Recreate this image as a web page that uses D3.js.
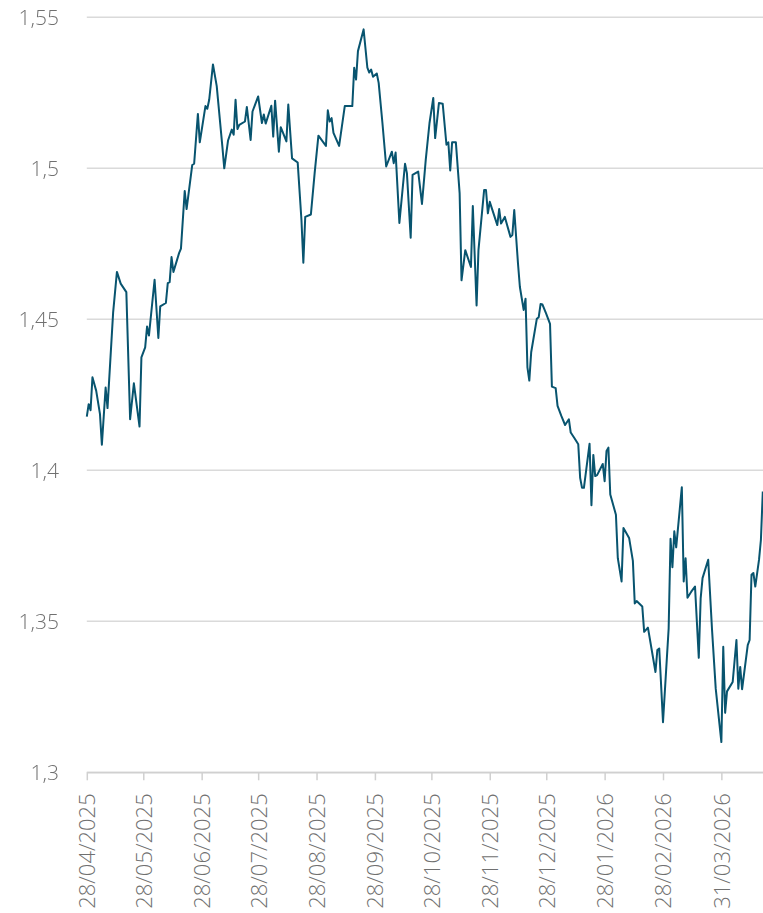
<!DOCTYPE html>
<html><head><meta charset="utf-8">
<script src="https://cdn.jsdelivr.net/npm/d3@7"></script>
<style>
body{margin:0;background:#fff;}
text{font-family:"Open Sans","Noto Sans",sans-serif;font-weight:300;fill:#707070;}
.ylab{opacity:0.999;will-change:transform;}
</style>
</head><body>
<svg id="chart" width="763" height="913"></svg>
<script>
const dates = [
"2025-04-28","2025-04-29","2025-04-30","2025-05-01","2025-05-03","2025-05-05","2025-05-06","2025-05-08","2025-05-09","2025-05-12",
"2025-05-14","2025-05-16","2025-05-19","2025-05-21","2025-05-23","2025-05-26","2025-05-27","2025-05-29","2025-05-30","2025-05-31",
"2025-06-03","2025-06-05","2025-06-06","2025-06-09","2025-06-10","2025-06-11","2025-06-12","2025-06-13","2025-06-16","2025-06-17",
"2025-06-19","2025-06-20","2025-06-23","2025-06-24","2025-06-26","2025-06-27","2025-06-30","2025-07-01","2025-07-02","2025-07-04",
"2025-07-06","2025-07-09","2025-07-10","2025-07-12","2025-07-14","2025-07-15","2025-07-16","2025-07-17","2025-07-18","2025-07-21",
"2025-07-22","2025-07-24","2025-07-25","2025-07-28","2025-07-30","2025-07-31","2025-08-01","2025-08-04","2025-08-05","2025-08-06",
"2025-08-08","2025-08-09","2025-08-12","2025-08-13","2025-08-15","2025-08-18","2025-08-20","2025-08-21","2025-08-22","2025-08-25",
"2025-08-27","2025-08-29","2025-09-02","2025-09-03","2025-09-04","2025-09-05","2025-09-06","2025-09-09","2025-09-12","2025-09-16",
"2025-09-17","2025-09-18","2025-09-19","2025-09-22","2025-09-24","2025-09-25","2025-09-26","2025-09-27","2025-09-29","2025-09-30",
"2025-10-02","2025-10-04","2025-10-07","2025-10-08","2025-10-09","2025-10-11","2025-10-14","2025-10-15","2025-10-17","2025-10-18",
"2025-10-21","2025-10-23","2025-10-25","2025-10-27","2025-10-29","2025-10-30","2025-11-01","2025-11-03","2025-11-05","2025-11-06",
"2025-11-07","2025-11-08","2025-11-10","2025-11-12","2025-11-13","2025-11-15","2025-11-18","2025-11-19","2025-11-21","2025-11-22",
"2025-11-25","2025-11-26","2025-11-27","2025-11-28","2025-12-02","2025-12-03","2025-12-04","2025-12-06","2025-12-09","2025-12-10",
"2025-12-11","2025-12-13","2025-12-14","2025-12-16","2025-12-17","2025-12-18","2025-12-19","2025-12-20","2025-12-23","2025-12-24",
"2025-12-25","2025-12-26","2025-12-28","2025-12-30","2025-12-31","2026-01-02","2026-01-03","2026-01-05","2026-01-07","2026-01-09",
"2026-01-10","2026-01-12","2026-01-14","2026-01-15","2026-01-16","2026-01-17","2026-01-20","2026-01-21","2026-01-22","2026-01-23",
"2026-01-24","2026-01-27","2026-01-28","2026-01-29","2026-01-30","2026-01-31","2026-02-03","2026-02-04","2026-02-06","2026-02-07",
"2026-02-10","2026-02-12","2026-02-13","2026-02-14","2026-02-17","2026-02-18","2026-02-20","2026-02-24","2026-02-25","2026-02-26",
"2026-02-28","2026-03-03","2026-03-04","2026-03-05","2026-03-06","2026-03-07","2026-03-10","2026-03-11","2026-03-12","2026-03-13",
"2026-03-15","2026-03-17","2026-03-19","2026-03-20","2026-03-21","2026-03-24","2026-03-26","2026-03-28","2026-03-31","2026-04-01",
"2026-04-02","2026-04-03","2026-04-06","2026-04-08","2026-04-09","2026-04-10","2026-04-11","2026-04-14","2026-04-15","2026-04-16",
"2026-04-17","2026-04-18","2026-04-20","2026-04-21","2026-04-22"
];
const values = [
1.4178,1.4219,1.4199,1.4308,1.4263,1.4186,1.4085,1.4274,1.4206,1.4524,
1.4657,1.4618,1.4590,1.4169,1.4288,1.4145,1.4374,1.4407,1.4476,1.4446,
1.4631,1.4438,1.4543,1.4554,1.4620,1.4623,1.4706,1.4657,1.4719,1.4734,
1.4925,1.4865,1.5011,1.5015,1.5180,1.5086,1.5206,1.5197,1.5227,1.5344,
1.5272,1.5072,1.5000,1.5092,1.5128,1.5111,1.5227,1.5130,1.5144,1.5155,
1.5203,1.5094,1.5188,1.5238,1.5150,1.5178,1.5148,1.5207,1.5105,1.5224,
1.5055,1.5136,1.5089,1.5211,1.5033,1.5019,1.4828,1.4687,1.4839,1.4847,
1.4984,1.5108,1.5074,1.5192,1.5155,1.5166,1.5117,1.5074,1.5206,1.5206,
1.5333,1.5294,1.5388,1.5460,1.5333,1.5317,1.5327,1.5303,1.5314,1.5283,
1.5150,1.5006,1.5055,1.5017,1.5052,1.4819,1.5015,1.4984,1.4770,1.4978,
1.4989,1.4882,1.5028,1.5150,1.5233,1.5100,1.5216,1.5214,1.5078,1.5086,
1.4993,1.5086,1.5086,1.4917,1.4629,1.4729,1.4673,1.4875,1.4546,1.4729,
1.4928,1.4928,1.4851,1.4889,1.4812,1.4865,1.4817,1.4839,1.4773,1.4779,
1.4862,1.4684,1.4607,1.4531,1.4568,1.4341,1.4297,1.4391,1.4502,1.4507,
1.4551,1.4549,1.4518,1.4485,1.4277,1.4272,1.4213,1.4180,1.4150,1.4169,
1.4125,1.4106,1.4086,1.3975,1.3942,1.3942,1.4088,1.3884,1.4051,1.3981,
1.3984,1.4021,1.3964,1.4064,1.4075,1.3920,1.3853,1.3709,1.3632,1.3809,
1.3776,1.3700,1.3559,1.3567,1.3549,1.3465,1.3479,1.3332,1.3405,1.3410,
1.3166,1.3476,1.3773,1.3679,1.3798,1.3745,1.3944,1.3632,1.3709,1.3578,
1.3598,1.3615,1.3379,1.3576,1.3643,1.3704,1.3476,1.3277,1.3100,1.3416,
1.3197,1.3268,1.3299,1.3438,1.3277,1.3349,1.3275,1.3421,1.3438,1.3654,
1.3660,1.3615,1.3704,1.3770,1.3930
];
const yTickValues = [1.3, 1.35, 1.4, 1.45, 1.5, 1.55];
const xTickDates = ["2025-04-28","2025-05-28","2025-06-28","2025-07-28","2025-08-28","2025-09-28",
                    "2025-10-28","2025-11-28","2025-12-28","2026-01-28","2026-02-28","2026-03-31"];
const startDate = "2025-04-28", endDate = "2026-04-22";

const parse = d3.timeParse("%Y-%m-%d");
const data = dates.map((d, i) => ({date: parse(d), value: values[i]}));

const svg = d3.select("#chart");
const mLeft = 86.8, mRight = 762.8, mTop = 17.3, mBottom = 772.3;

const x = d3.scaleTime().domain([parse(startDate), parse(endDate)]).range([mLeft, mRight]);
const y = d3.scaleLinear().domain([1.3, 1.55]).range([mBottom, mTop]);

const locale = d3.formatLocale({decimal: ",", thousands: ".", grouping: [3], currency: ["", "€"]});
const fmtY = locale.format("~g");
const fmtX = d3.timeFormat("%d/%m/%Y");

// Gridlines
svg.append("g").selectAll("line").data(yTickValues).join("line")
  .attr("x1", mLeft).attr("x2", 763)
  .attr("y1", d => y(d)).attr("y2", d => y(d))
  .attr("stroke", "#dadada").attr("stroke-width", 1.5);

// Y labels
svg.append("g").attr("class", "ylab").selectAll("text").data(yTickValues).join("text")
  .attr("x", 59).attr("y", d => y(d)).attr("dy", "0.35em")
  .attr("text-anchor", "end").attr("font-size", 21)
  .attr("fill", "#707070")
  .text(d => fmtY(d));

// X axis
const xAxis = d3.axisBottom(x)
  .tickValues(xTickDates.map(parse))
  .tickFormat(fmtX)
  .tickSize(8).tickSizeOuter(0);
const gx = svg.append("g").attr("transform", `translate(0,${mBottom})`).call(xAxis);
gx.select(".domain").attr("stroke", "#d0d0d0").attr("stroke-width", 1.5);
gx.selectAll(".tick line").attr("stroke", "#d0d0d0").attr("stroke-width", 1.5);
gx.selectAll(".tick text")
  .attr("font-size", 22)
  .attr("font-family", "'Open Sans','Noto Sans',sans-serif")
  .attr("font-weight", 300)
  .attr("fill", "#707070")
  .attr("text-anchor", "end")
  .attr("transform", "rotate(-90)")
  .attr("x", -21).attr("y", 0).attr("dy", "0.36em");

// Line
const line = d3.line().x(d => x(d.date)).y(d => y(d.value));
svg.append("path").datum(data)
  .attr("fill", "none").attr("stroke", "#08546f").attr("stroke-width", 2)
  .attr("stroke-linejoin", "round").attr("d", line);
</script>
</body></html>
